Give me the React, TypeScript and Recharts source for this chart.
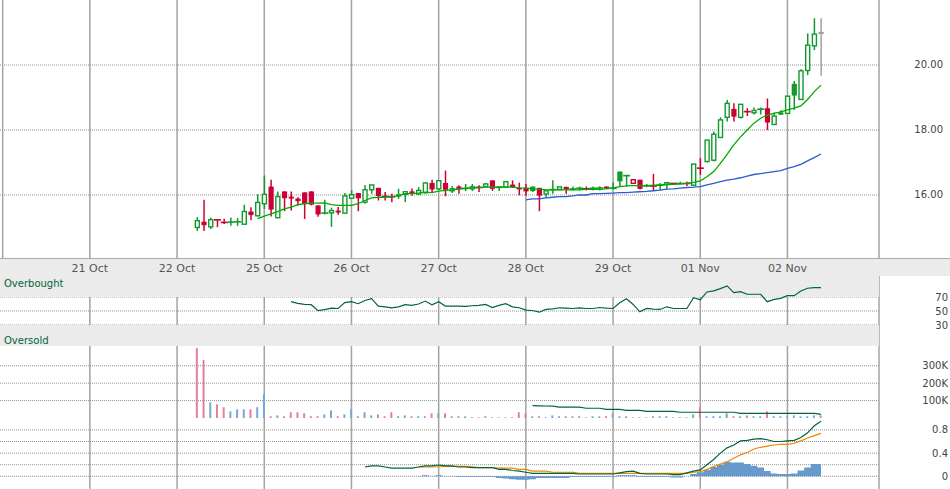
import React from 'react';
import {
  Area,
  Bar,
  CartesianGrid,
  Cell,
  ComposedChart,
  Line,
  ReferenceArea,
  XAxis,
  YAxis,
} from 'recharts';

const FONT = '"DejaVu Sans", Verdana, sans-serif';
const W = 950;
const AXIS_W = 71;
const X_DOMAIN: [number, number] = [-0.4, 130.65];
const MARGIN = { top: 0, right: 0, bottom: 0, left: 0 };

const GREEN = '#109a2c';
const RED = '#cc0035';
const GRAY = '#a0a0a0';
const GRID = '#a3a3a3';
const DOTS = '#8f8f8f';
const DARK_GREEN = '#00663a';

// one tick per trading day, 13 bars a day
const dayTicks = [13, 26, 39, 52, 65, 78, 91, 104, 117];
const dayLabels = ['21 Oct', '22 Oct', '25 Oct', '26 Oct', '27 Oct', '28 Oct', '29 Oct', '01 Nov', '02 Nov'];
const gridTicks = [0, ...dayTicks, X_DOMAIN[1]];

const priceTicks = [16, 18, 20];
const rsiTicks = [30, 50, 70];
const volumeTicks = [100000, 200000, 300000];
const macdTicks = [0, 0.4, 0.8];
const macdGrid = [0, 0.2, 0.4, 0.6, 0.8];

const FIRST_BAR = 29;
const opens = [
  15.0, 15.18, 15.02, 15.24, 15.16, 15.16, 15.17, 15.1, 15.49, 15.36,
  15.73, 16.26, 15.3, 16.11, 15.95, 15.89, 16.08, 16.11, 15.68, 15.44,
  15.45, 15.52, 15.44, 15.9, 16.06, 15.78, 16.16, 16.22, 15.96, 15.95,
  16.02, 16.02, 16.11, 16.03, 16.07, 16.37, 16.19, 16.37, 16.13, 16.26,
  16.2, 16.19, 16.24, 16.26, 16.45, 16.23, 16.24, 16.32, 16.22, 16.22,
  16.26, 16.22, 16.03, 16.16, 16.17, 16.25, 16.18, 16.2, 16.21, 16.2,
  16.21, 16.26, 16.2, 16.72, 16.59, 16.36, 16.47, 16.28, 16.28, 16.3,
  16.32, 16.36, 16.34, 16.36, 16.3, 16.83, 17.03, 17.07, 17.77, 18.39,
  18.65, 18.39, 18.57, 18.53, 18.63, 18.67, 18.17, 18.54, 18.51, 19.42,
  18.94, 19.83, 20.59, 21.02,
];
const highs = [
  15.32, 15.85, 15.3, 15.24, 15.27, 15.31, 15.29, 15.7, 15.62, 16.02,
  16.6, 16.47, 16.11, 16.11, 16.11, 15.93, 16.08, 16.11, 15.68, 15.85,
  15.61, 15.63, 16.06, 16.15, 16.06, 16.31, 16.31, 16.22, 16.09, 16.04,
  16.19, 16.1, 16.2, 16.24, 16.39, 16.47, 16.45, 16.75, 16.28, 16.3,
  16.34, 16.34, 16.3, 16.37, 16.45, 16.27, 16.41, 16.45, 16.38, 16.34,
  16.26, 16.22, 16.13, 16.45, 16.25, 16.25, 16.26, 16.26, 16.26, 16.26,
  16.27, 16.26, 16.39, 16.72, 16.62, 16.47, 16.47, 16.34, 16.65, 16.37,
  16.39, 16.36, 16.41, 16.41, 16.95, 17.13, 17.69, 17.95, 18.39, 18.92,
  18.82, 18.79, 18.67, 18.69, 18.69, 18.97, 18.54, 18.61, 19.04, 19.51,
  19.87, 20.97, 21.44, 21.44,
];
const lows = [
  14.89, 14.89, 14.95, 15.01, 15.11, 15.05, 15.05, 15.1, 15.22, 15.34,
  15.57, 15.34, 15.3, 15.5, 15.52, 15.67, 15.26, 15.68, 15.33, 15.4,
  15.02, 15.39, 15.44, 15.9, 15.5, 15.73, 16.04, 15.83, 15.83, 15.78,
  15.88, 15.78, 15.98, 16.0, 16.04, 16.09, 16.16, 15.96, 16.06, 16.04,
  16.12, 16.12, 16.09, 16.26, 16.13, 16.12, 16.24, 16.22, 15.99, 15.98,
  16.09, 15.5, 15.91, 16.04, 16.14, 16.04, 16.14, 16.14, 16.14, 16.14,
  16.14, 16.19, 16.17, 16.27, 16.26, 16.36, 16.17, 16.24, 16.14, 16.14,
  16.18, 16.33, 16.33, 16.28, 16.3, 16.62, 17.0, 17.03, 17.77, 18.26,
  18.26, 18.35, 18.43, 18.48, 18.48, 18.0, 18.17, 18.47, 18.51, 18.62,
  18.94, 19.69, 20.46, 19.67,
];
const closes = [
  15.21, 15.07, 15.24, 15.23, 15.15, 15.17, 15.18, 15.49, 15.38, 15.77,
  16.02, 15.55, 15.95, 15.9, 15.89, 15.81, 15.73, 15.7, 15.4, 15.45,
  15.52, 15.46, 15.97, 16.01, 15.9, 16.16, 16.31, 15.97, 15.95, 15.94,
  15.95, 16.1, 16.05, 16.14, 16.37, 16.17, 16.44, 16.16, 16.19, 16.17,
  16.21, 16.25, 16.23, 16.34, 16.19, 16.24, 16.41, 16.24, 16.17, 16.11,
  16.12, 15.98, 16.13, 16.17, 16.25, 16.17, 16.19, 16.21, 16.17, 16.21,
  16.22, 16.2, 16.21, 16.42, 16.6, 16.47, 16.19, 16.29, 16.27, 16.31,
  16.38, 16.35, 16.36, 16.35, 16.95, 16.82, 17.69, 17.87, 18.31, 18.82,
  18.41, 18.79, 18.56, 18.6, 18.65, 18.23, 18.43, 18.47, 19.04, 19.06,
  19.82, 20.61, 20.95, 20.95,
];
// volume in thousands
const volumesK = [
  402, 333, 90, 79, 62, 38, 50, 50, 50, 62,
  137, 10, 15, 10, 33, 33, 27, 10, 10, 21,
  44, 10, 21, 50, 10, 33, 15, 21, 10, 33,
  10, 15, 10, 10, 10, 27, 27, 27, 10, 10,
  10, 4, 4, 10, 4, 4, 4, 4, 33, 27,
  10, 10, 4, 15, 10, 10, 10, 10, 4, 10,
  10, 10, 27, 10, 10, 4, 4, 4, 10, 10,
  10, 4, 4, 4, 21, 62, 10, 10, 10, 27,
  10, 10, 15, 10, 10, 38, 10, 10, 10, 15,
  10, 10, 15, 15,
];

const MA10_FROM = 38;
const ma10 = [
  15.27, 15.35, 15.42, 15.49, 15.57, 15.63, 15.7, 15.73, 15.75, 15.75,
  15.76, 15.7, 15.68, 15.68, 15.68, 15.73, 15.83, 15.91, 15.93, 15.93,
  15.95, 15.98, 16.04, 16.04, 16.06, 16.09, 16.07, 16.12, 16.14, 16.16,
  16.19, 16.2, 16.22, 16.22, 16.24, 16.24, 16.25, 16.24, 16.24, 16.22,
  16.21, 16.19, 16.18, 16.16, 16.16, 16.16, 16.16, 16.16, 16.16, 16.17,
  16.17, 16.17, 16.19, 16.22, 16.26, 16.28, 16.29, 16.29, 16.28, 16.3,
  16.3, 16.33, 16.33, 16.34, 16.36, 16.39, 16.43, 16.56, 16.72, 16.97,
  17.25, 17.54, 17.79, 18.0, 18.21, 18.36, 18.46, 18.51, 18.56, 18.62,
  18.67, 18.74, 18.94, 19.18, 19.38,
];
const MA50_FROM = 78;
const ma50 = [
  15.85, 15.88, 15.88, 15.91, 15.93, 15.95, 15.95, 15.97, 16.0, 16.0,
  16.04, 16.04, 16.05, 16.06, 16.07, 16.07, 16.09, 16.1, 16.11, 16.13,
  16.15, 16.18, 16.19, 16.21, 16.23, 16.24, 16.26, 16.31, 16.36, 16.41,
  16.46, 16.49, 16.53, 16.58, 16.63, 16.66, 16.69, 16.72, 16.75, 16.82,
  16.87, 16.94, 17.05, 17.15, 17.26,
];
const RSI_FROM = 43;
const rsi = [
  63.3, 61, 59.4, 59, 50.5, 52, 54, 53.6, 62, 63.3,
  60.4, 65, 67.6, 57, 56, 54.6, 56, 59, 58, 60,
  64.2, 58.9, 63.3, 57, 57, 57, 56.5, 57.5, 58, 59.4,
  55, 58, 60.4, 56, 54.6, 51.2, 50.7, 48.3, 52.2, 53,
  54.6, 54, 53.6, 54.6, 53.6, 53.6, 55, 54, 53.6, 61.8,
  67.6, 59.4, 48.8, 53.6, 52.6, 52.2, 56, 53.6, 53.6, 53.6,
  69, 66.1, 77.2, 78.7, 82, 85.9, 76.3, 77.7, 73.9, 73.9,
  73.9, 63.3, 66.6, 68.1, 71.9, 71.9, 78.7, 82.5, 83.5, 83.5,
];
const VOL_MA_FROM = 79;
const volumeMaK = [
  71, 70, 69, 68, 63, 62, 62, 62, 56, 56,
  56, 50, 50, 50, 44, 44, 44, 38, 38, 38,
  38, 38, 33, 33, 33, 33, 33, 33, 33, 33,
  33, 27, 27, 27, 27, 27, 27, 27, 27, 27,
  27, 27, 27, 21,
];
const MACD_FROM = 54;
const macd = [
  0.16, 0.18, 0.18, 0.16, 0.14, 0.14, 0.14, 0.14, 0.16, 0.18,
  0.18, 0.195, 0.18, 0.18, 0.16, 0.16, 0.15, 0.15, 0.15, 0.15,
  0.12, 0.12, 0.1, 0.09, 0.07, 0.05, 0.05, 0.05, 0.05, 0.05,
  0.05, 0.05, 0.04, 0.04, 0.04, 0.04, 0.04, 0.04, 0.06, 0.08,
  0.09, 0.05, 0.04, 0.04, 0.04, 0.04, 0.03, 0.03, 0.06, 0.09,
  0.11, 0.2, 0.29, 0.4, 0.49, 0.54, 0.61, 0.62, 0.64, 0.65,
  0.63, 0.6, 0.6, 0.61, 0.62, 0.67, 0.75, 0.87, 0.95,
];
const SIGNAL_FROM = 62;
const signal = [
  0.16, 0.16, 0.16, 0.165, 0.17, 0.17, 0.17, 0.17, 0.165, 0.15,
  0.15, 0.15, 0.14, 0.14, 0.14, 0.12, 0.12, 0.09, 0.09, 0.09,
  0.07, 0.07, 0.07, 0.07, 0.05, 0.05, 0.05, 0.05, 0.05, 0.05,
  0.05, 0.05, 0.05, 0.05, 0.05, 0.05, 0.05, 0.05, 0.05, 0.05,
  0.05, 0.07, 0.08, 0.12, 0.17, 0.21, 0.25, 0.31, 0.37, 0.41,
  0.47, 0.5, 0.52, 0.54, 0.55, 0.55, 0.57, 0.61, 0.66, 0.7,
  0.74,
];
const histogram = [
  0.005, 0.02, 0.005, 0.02, 0.005, 0.005, -0.01, -0.01, -0.01, -0.01,
  -0.01, -0.01, -0.03, -0.04, -0.05, -0.06, -0.06, -0.05, -0.03, -0.03,
  -0.03, -0.03, -0.03, -0.01, -0.01, -0.01, -0.01, -0.01, -0.01, -0.01,
  0.02, 0.02, 0.02, -0.01, -0.01, -0.01, -0.01, -0.01, -0.02, -0.02,
  0.0, 0.04, 0.07, 0.11, 0.16, 0.2, 0.25, 0.24, 0.24, 0.21,
  0.18, 0.15, 0.09, 0.05, 0.04, 0.04, 0.05, 0.1, 0.15, 0.21,
  0.21,
];

const pick = (arr: number[], from: number, i: number) =>
  i >= from && i - from < arr.length ? arr[i - from] : null;

const rows = opens.map((o, k) => {
  const i = FIRST_BAR + k;
  const c = closes[k];
  const prev = k > 0 ? closes[k - 1] : null;
  const tone = prev === null ? (c >= o ? 'up' : 'down') : c > prev ? 'up' : c < prev ? 'down' : 'flat';
  const vmaK = pick(volumeMaK, VOL_MA_FROM, i);
  return {
    i,
    o,
    h: highs[k],
    l: lows[k],
    c,
    tone,
    volTone: prev === null ? 'down' : tone,
    hollow: c > o,
    vol: volumesK[k] * 1000,
    ma10: pick(ma10, MA10_FROM, i),
    ma50: pick(ma50, MA50_FROM, i),
    rsi: pick(rsi, RSI_FROM, i),
    vma: vmaK === null ? null : vmaK * 1000,
    macd: pick(macd, MACD_FROM, i),
    signal: pick(signal, SIGNAL_FROM, i),
    hist: pick(histogram, SIGNAL_FROM, i),
  };
});

const toneColor = (tone: string) => (tone === 'up' ? GREEN : tone === 'down' ? RED : GRAY);
const volColor = (tone: string) => (tone === 'up' ? '#7ba7d4' : tone === 'down' ? '#e3809a' : GRAY);

function Candle(props: any) {
  const { x, y, width, height, payload } = props;
  if (x == null || y == null || !payload) return null;
  const { o, h, l, c, tone, hollow } = payload;
  const color = toneColor(tone);
  const cx = x + width / 2;
  const yHigh = Math.min(y, y + height);
  const yLow = Math.max(y, y + height);
  const at = (v: number) => (h > l ? yHigh + ((h - v) / (h - l)) * (yLow - yHigh) : yHigh);
  const top = Math.min(at(o), at(c));
  const bot = Math.max(at(o), at(c));
  if (bot - top < 1.6) {
    const mid = (top + bot) / 2;
    return (
      <g>
        <line x1={cx} x2={cx} y1={yHigh} y2={yLow} stroke={color} strokeWidth={1.5} />
        <line x1={cx - 3.5} x2={cx + 3.5} y1={mid} y2={mid} stroke={color} strokeWidth={1.6} />
      </g>
    );
  }
  if (hollow) {
    return (
      <g>
        <line x1={cx} x2={cx} y1={yHigh} y2={top} stroke={color} strokeWidth={1.5} />
        <line x1={cx} x2={cx} y1={bot} y2={yLow} stroke={color} strokeWidth={1.5} />
        <rect x={cx - 2} y={top} width={4} height={bot - top} fill="#fff" stroke={color} strokeWidth={1.4} />
      </g>
    );
  }
  return (
    <g>
      <line x1={cx} x2={cx} y1={yHigh} y2={yLow} stroke={color} strokeWidth={1.5} />
      <rect x={cx - 2.6} y={top} width={5.2} height={bot - top} fill={color} />
    </g>
  );
}

const rightTick = (format: (v: number) => string, right: number) =>
  function Tick(props: any) {
    return (
      <text x={right} y={props.y} dy={3.5} textAnchor="end" fontSize={10} fill="#444" fontFamily={FONT}>
        {format(props.payload.value)}
      </text>
    );
  };

// grids sit behind the series: dotted horizontals, solid day separators
const grids = (values: number[]) => [
  <CartesianGrid key="h" vertical={false} horizontalValues={values} stroke={DOTS} strokeDasharray="1 1" />,
  <CartesianGrid key="v" horizontal={false} verticalValues={gridTicks} stroke={GRID} strokeWidth={1.5} />,
];

const hiddenX = <XAxis type="number" dataKey="i" domain={X_DOMAIN} hide allowDataOverflow />;

function PriceChart() {
  return (
    <ComposedChart width={W} height={276} data={rows} margin={MARGIN}>
      <XAxis
        type="number"
        dataKey="i"
        domain={X_DOMAIN}
        allowDataOverflow
        ticks={dayTicks}
        interval={0}
        tickFormatter={(v) => dayLabels[dayTicks.indexOf(v)] ?? ''}
        height={17}
        axisLine={false}
        tickLine={false}
        tickSize={0}
        tickMargin={5}
        tick={{ fontSize: 11, fill: '#555', fontFamily: FONT }}
      />
      <YAxis
        orientation="right"
        width={AXIS_W}
        domain={[14.03, 22.0]}
        ticks={priceTicks}
        interval={0}
        axisLine={false}
        tickLine={false}
        tick={rightTick((v) => v.toFixed(2), 943)}
        allowDataOverflow
      />
      {grids(priceTicks)}
      <Line dataKey="ma50" type="linear" stroke="#2a5bd0" strokeWidth={1.3} dot={false} isAnimationActive={false} />
      <Line dataKey="ma10" type="linear" stroke="#00aa00" strokeWidth={1.3} dot={false} isAnimationActive={false} />
      <Bar dataKey={(d: any) => [d.l, d.h]} barSize={5} shape={<Candle />} isAnimationActive={false} />
    </ComposedChart>
  );
}

function RsiChart() {
  return (
    <ComposedChart width={W} height={70} data={rows} margin={MARGIN}>
      {hiddenX}
      <YAxis
        orientation="right"
        width={AXIS_W}
        domain={[0, 100]}
        ticks={rsiTicks}
        interval={0}
        axisLine={false}
        tickLine={false}
        tick={rightTick((v) => String(v), 948)}
      />
      <ReferenceArea y1={70} y2={100} fill="#ebebeb" fillOpacity={1} stroke="none" />
      <ReferenceArea y1={0} y2={30} fill="#ebebeb" fillOpacity={1} stroke="none" />
      {grids(rsiTicks)}
      <Line dataKey="rsi" type="linear" stroke={DARK_GREEN} strokeWidth={1.2} dot={false} isAnimationActive={false} />
    </ComposedChart>
  );
}

function VolumeChart() {
  return (
    <ComposedChart width={W} height={72} data={rows} margin={MARGIN}>
      {hiddenX}
      <YAxis
        orientation="right"
        width={AXIS_W}
        domain={[0, 413800]}
        ticks={volumeTicks}
        interval={0}
        axisLine={false}
        tickLine={false}
        tick={rightTick((v) => `${v / 1000}K`, 948)}
        allowDataOverflow
      />
      {grids(volumeTicks)}
      <Bar dataKey="vol" barSize={2} isAnimationActive={false}>
        {rows.map((r) => (
          <Cell key={r.i} fill={volColor(r.volTone)} />
        ))}
      </Bar>
      <Line dataKey="vma" type="linear" stroke={DARK_GREEN} strokeWidth={1.2} dot={false} isAnimationActive={false} />
    </ComposedChart>
  );
}

function MacdChart() {
  return (
    <ComposedChart width={W} height={71} data={rows} margin={MARGIN}>
      {hiddenX}
      <YAxis
        orientation="right"
        width={AXIS_W}
        domain={[-0.219, 1.005]}
        ticks={macdTicks}
        interval={0}
        axisLine={false}
        tickLine={false}
        tick={rightTick((v) => String(v), 948)}
        allowDataOverflow
      />
      {grids(macdGrid)}
      <Area
        dataKey="hist"
        type="step"
        baseValue={0}
        fill="#6699cc"
        fillOpacity={1}
        stroke="none"
        isAnimationActive={false}
      />
      <Line dataKey="signal" type="linear" stroke="#ee8800" strokeWidth={1.2} dot={false} isAnimationActive={false} />
      <Line dataKey="macd" type="linear" stroke={DARK_GREEN} strokeWidth={1.2} dot={false} isAnimationActive={false} />
    </ComposedChart>
  );
}

const panelLabel: React.CSSProperties = {
  position: 'absolute',
  left: 4,
  fontSize: 10,
  lineHeight: '12px',
  color: DARK_GREEN,
  fontFamily: FONT,
};

export default function App() {
  return (
    <div style={{ position: 'absolute', left: 0, top: 0, width: W, height: 489, background: '#fff', overflow: 'hidden' }}>
      <div
        style={{
          position: 'absolute',
          left: 0,
          top: 258,
          width: W,
          height: 18,
          background: '#ebebeb',
          borderTop: '1px solid #aaa',
          boxSizing: 'border-box',
        }}
      />
      <div style={{ position: 'absolute', left: 0, top: 0 }}>
        <PriceChart />
      </div>
      <div style={{ position: 'absolute', left: 0, top: 276 }}>
        <RsiChart />
      </div>
      <div style={{ position: 'absolute', left: 0, top: 346 }}>
        <VolumeChart />
      </div>
      <div style={{ position: 'absolute', left: 0, top: 418 }}>
        <MacdChart />
      </div>
      <div style={{ ...panelLabel, top: 277.5 }}>Overbought</div>
      <div style={{ ...panelLabel, top: 335 }}>Oversold</div>
    </div>
  );
}
